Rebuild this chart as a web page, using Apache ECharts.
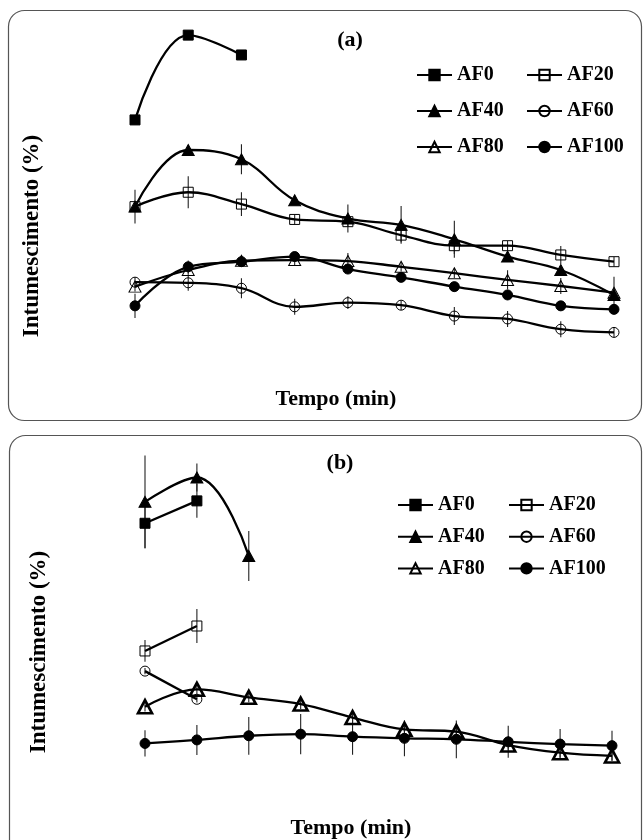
<!DOCTYPE html>
<html><head><meta charset="utf-8">
<script src="https://cdn.jsdelivr.net/npm/echarts@6/dist/echarts.min.js"></script>
<style>html,body{margin:0;padding:0;background:#fff}#c{width:644px;height:840px}</style>
</head><body><div id="c"></div>
<script>
// Time points (x axis is not labelled in the original)
const tempo = ['1','2','3','4','5','6','7','8','9','10'];
const seriesNames = ['AF0','AF20','AF40','AF60','AF80','AF100'];

// Panel (a): intumescimento values
const afA0   = [71.9, 98.4, 92.2];
const afA20  = [44.8, 49.3, 45.6, 40.8, 40.1, 35.9, 32.6, 32.6, 29.7, 27.6];
const afA40  = [44.8, 62.5, 59.6, 46.8, 41.1, 39.1, 34.6, 29.2, 25.0, 17.2];
const afA60  = [21.2, 21.0, 19.3, 13.5, 14.8, 14.0, 10.6, 9.7, 6.5, 5.5];
const afA80  = [19.8, 25.0, 27.9, 28.1, 27.8, 26.0, 24.0, 21.9, 20.0, 17.9];
const afA100 = [13.8, 26.0, 27.6, 29.2, 25.3, 22.7, 19.8, 17.2, 13.8, 12.7];
// Panel (a): error bars (+/-)
const errA0   = [0, 0, 0];
const errA20  = [5.3, 5.0, 3.7, 1.5, 1.5, 2.2, 2.6, 1.5, 2.8, 1.5];
const errA40  = [1.5, 1.5, 4.7, 1.5, 4.4, 5.9, 5.8, 1.5, 1.5, 5.7];
const errA60  = [1.5, 2.5, 3.1, 2.5, 2.0, 1.5, 2.8, 2.5, 2.5, 1.5];
const errA80  = [1.5, 1.5, 1.5, 1.5, 2.5, 1.5, 1.5, 3.0, 2.5, 1.5];
const errA100 = [3.8, 2.0, 1.5, 1.5, 1.5, 1.5, 1.5, 1.5, 1.5, 1.5];

// Panel (b): intumescimento values
const afB0   = [77.1, 84.1];
const afB20  = [37.2, 45.0];
const afB40  = [83.8, 91.4, 66.9];
const afB60  = [30.9, 22.1];
const afB80  = [19.8, 25.2, 22.7, 20.6, 16.4, 12.7, 12.0, 7.8, 5.4, 4.4];
const afB100 = [8.3, 9.4, 10.7, 11.2, 10.4, 9.9, 9.6, 8.8, 8.1, 7.6];
// Panel (b): error bars (+/-)
const errB0   = [7.8, 5.3];
const errB20  = [3.4, 5.3];
const errB40  = [14.5, 4.4, 7.8];
const errB60  = [1.0, 1.0];
const errB80  = [1.5, 1.5, 1.5, 1.5, 1.5, 1.5, 1.5, 1.5, 1.5, 1.5];
const errB100 = [4.1, 4.7, 5.9, 6.3, 5.6, 5.6, 5.9, 5.0, 4.7, 4.7];

const serif = "'Liberation Serif','Times New Roman',serif";
const styles = {
  AF0:   {symbol:'rect', size:10, fill:'#000'},
  AF20:  {symbol:'rect', size:10, fill:'rgba(255,255,255,0)'},
  AF40:  {symbol:'triangle', size:[12,11], fill:'#000'},
  AF60:  {symbol:'circle', size:10, fill:'rgba(255,255,255,0)'},
  AF80:  {symbol:'triangle', size:[12,11], fill:'rgba(255,255,255,0)'},
  AF100: {symbol:'circle', size:10, fill:'#000'}
};

function lineSeries(name, idx, data, suffix, smooth, bw, size) {
  const s = styles[name];
  return {
    name: name + suffix, type:'line', xAxisIndex:idx, yAxisIndex:idx,
    data: data, smooth: smooth, symbol: s.symbol, symbolSize: size || s.size,
    showAllSymbol: true, z: 3, animation:false,
    lineStyle:{color:'#000', width:2.3},
    itemStyle:{color:s.fill, borderColor:'#000', borderWidth: bw || 1},
    emphasis:{disabled:true}
  };
}
function errSeries(idx, vals, errs) {
  const d = [];
  vals.forEach((v,i)=>{ if (errs[i] > 0) d.push([i, v - errs[i], v + errs[i]]); });
  return {
    type:'custom', xAxisIndex:idx, yAxisIndex:idx, z:1, animation:false, silent:true,
    encode:{x:0, y:[1,2]}, data:d,
    renderItem:(params, api) => {
      const p1 = api.coord([api.value(0), api.value(1)]);
      const p2 = api.coord([api.value(0), api.value(2)]);
      return {type:'line', shape:{x1:p1[0], y1:p1[1], x2:p2[0], y2:p2[1]},
              style:{stroke:'#222', lineWidth:1.1}};
    }
  };
}

const A = [afA0, afA20, afA40, afA60, afA80, afA100];
const EA = [errA0, errA20, errA40, errA60, errA80, errA100];
const B = [afB0, afB20, afB40, afB60, afB80, afB100];
const EB = [errB0, errB20, errB40, errB60, errB80, errB100];

const series = [];
seriesNames.forEach((n,i)=>{ series.push(errSeries(0, A[i], EA[i])); });
seriesNames.forEach((n,i)=>{ series.push(errSeries(1, B[i], EB[i])); });
seriesNames.forEach((n,i)=>{ series.push(lineSeries(n, 0, A[i], '', 0.4)); });
seriesNames.forEach((n,i)=>{
  const isAF80 = n === 'AF80';
  series.push(lineSeries(n, 1, B[i], ' ', (B[i].length > 2 ? 0.4 : false),
    isAF80 ? 2.6 : 1, isAF80 ? [14,13] : null));
});

function legend(left, top, names, gap) {
  return {
    left:left, top:top, orient:'vertical', padding:0, itemGap:gap,
    itemWidth:35, itemHeight:13, data:names, selectedMode:false,
    formatter: n => n.trim(),
    textStyle:{fontFamily:serif, fontWeight:'bold', fontSize:20, color:'#000'}
  };
}

const axisX = i => ({type:'category', gridIndex:i, data:tempo, boundaryGap:false, show:false});
const axisY = i => ({type:'value', gridIndex:i, min:0, max:100, show:false, splitLine:{show:false}});

const txt = (x, y, t, size, rot) => ({
  type:'text', x:x, y:y, rotation: rot || 0, z:10,
  style:{text:t, fill:'#000', font:'bold ' + size + 'px ' + serif, textAlign:'center', textVerticalAlign:'middle'}
});

const option = {
  backgroundColor:'#fff',
  animation:false,
  grid:[
    {left:135, top:30, width:479, height:320},
    {left:145, top:450, width:467, height:320}
  ],
  xAxis:[axisX(0), axisX(1)],
  yAxis:[axisY(0), axisY(1)],
  legend:[
    legend(416, 65, ['AF0','AF40','AF80'], 16),
    legend(526, 65, ['AF20','AF60','AF100'], 16),
    legend(397, 495, ['AF0 ','AF40 ','AF80 '], 11.7),
    legend(508, 495, ['AF20 ','AF60 ','AF100 '], 11.7)
  ],
  graphic:[
    {type:'rect', shape:{x:8.5, y:10.5, width:633, height:410, r:16}, style:{fill:'none', stroke:'#555', lineWidth:1.2}, silent:true},
    {type:'rect', shape:{x:9.5, y:435.5, width:632, height:425, r:16}, style:{fill:'none', stroke:'#555', lineWidth:1.2}, silent:true},
    txt(350, 40, '(a)', 22),
    txt(340, 463, '(b)', 22),
    txt(32, 236, 'Intumescimento (%)', 23, Math.PI/2),
    txt(39, 652, 'Intumescimento (%)', 23, Math.PI/2),
    txt(336, 399, 'Tempo (min)', 22),
    txt(351, 828, 'Tempo (min)', 22)
  ],
  series: series
};
const chart = echarts.init(document.getElementById('c'), null, {renderer:'canvas'});
chart.setOption(option);
</script></body></html>
